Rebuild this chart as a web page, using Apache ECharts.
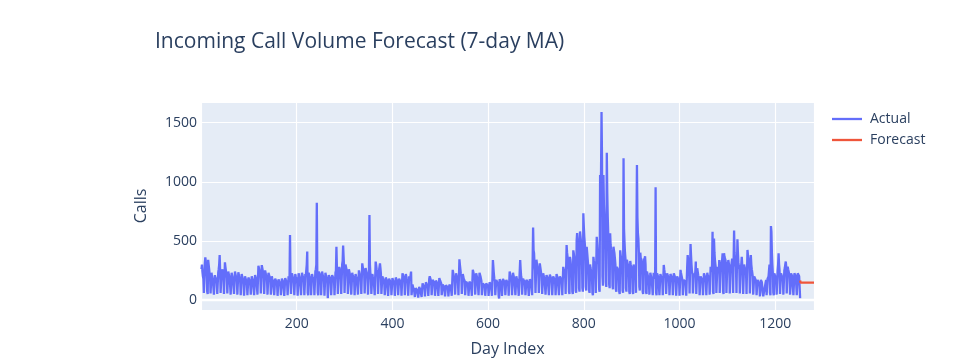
<!DOCTYPE html>
<html>
<head>
<meta charset="utf-8">
<script src="https://cdn.jsdelivr.net/npm/echarts@6/dist/echarts.min.js"></script>
<style>
html,body{margin:0;padding:0;background:#fff;}
#chart{width:963px;height:358px;}
</style>
</head>
<body>
<div id="chart"></div>
<script>
// ---- data ----
var titleText = "Incoming Call Volume Forecast (7-day MA)";
var xAxisTitle = "Day Index";
var yAxisTitle = "Calls";
var seriesNames = ["Actual", "Forecast"];
var xTicks = [200, 400, 600, 800, 1000, 1200];
var yTicks = [0, 500, 1000, 1500];
var actualStartDay = 1;
var actualValues = [
260,300,240,200,180,60,45, 310,360,330,250,210,70,50, 340,300,260,220,190,55,40, 230,200,180,160,150,45,35,
210,190,200,170,150,50,40, 230,260,300,380,250,60,45, 240,220,260,200,180,50,40, 318,280,250,220,190,55,40,
240,220,200,180,170,45,35, 230,210,200,170,160,50,35, 240,220,210,180,160,45,30, 235,215,190,170,150,40,30,
220,200,180,160,140,35,25, 200,190,170,150,130,40,30, 190,180,170,150,130,45,35, 200,185,170,150,140,40,35,
210,200,180,160,150,45,35, 290,270,250,230,200,55,40, 295,280,250,220,190,50,40, 250,230,210,190,170,45,35,
230,220,200,180,160,45,35, 200,180,170,150,140,40,30, 180,170,160,150,130,35,25, 175,165,150,140,130,40,30,
180,170,160,140,130,35,25, 185,170,160,150,135,40,30, 200,190,180,550,200,50,35, 225,210,190,170,150,40,30,
220,200,190,170,150,35,20, 225,210,190,170,160,40,30, 230,210,200,180,160,40,30, 220,200,250,300,410,60,40,
230,210,200,180,160,40,30, 220,200,190,180,160,40,30, 240,260,300,823,250,60,40, 240,230,220,200,180,40,30,
240,220,200,190,170,35,25, 230,210,190,170,150,15,5, 210,200,190,180,160,40,30, 210,200,190,180,170,40,30,
230,250,450,280,240,50,40, 240,280,260,240,220,50,35, 300,330,460,365,280,60,45, 300,280,260,240,210,50,40,
260,240,220,200,190,45,35, 230,210,200,190,170,40,30, 220,200,190,180,170,45,30, 250,230,210,190,170,50,35,
310,280,260,240,220,55,40, 270,250,230,210,190,45,30, 250,719,300,220,200,50,35, 220,200,190,170,160,40,30,
325,296,260,230,200,50,35, 250,240,310,270,220,50,35, 200,190,170,160,140,40,30, 190,180,170,150,140,35,25,
180,170,160,150,140,40,30, 185,170,160,150,135,35,30, 190,180,170,160,140,40,30, 180,170,160,150,140,35,25,
225,210,200,180,160,40,30, 220,200,180,170,150,35,25, 200,190,175,210,240,40,30, 130,110,100,90,80,25,15,
100,90,85,80,70,20,15, 110,100,90,80,75,25,15, 140,130,120,110,100,30,20, 150,140,130,120,110,35,25,
180,200,190,170,150,40,30, 170,165,160,150,130,35,25, 165,160,150,140,130,35,25, 185,170,160,150,140,40,30,
130,125,120,110,100,30,20, 125,120,115,110,100,30,20, 130,125,120,110,100,35,25, 255,230,200,180,160,45,35,
225,210,190,170,150,40,30, 344,300,260,220,200,50,35, 220,200,180,170,160,40,30, 155,150,145,140,130,35,25,
155,150,140,135,130,35,25, 255,240,220,200,180,45,35, 225,210,190,170,160,40,30, 230,220,200,180,160,40,30,
140,135,130,125,120,35,25, 140,135,130,125,115,35,25, 150,140,135,130,120,35,25, 338,280,220,180,160,40,25,
170,160,150,140,130,35,10, 175,170,160,150,140,35,25, 178,170,160,150,140,40,30, 170,160,150,140,130,35,25,
240,225,200,180,160,40,30, 230,210,190,170,160,40,30, 200,180,170,160,150,35,25, 240,338,260,200,180,45,35,
180,170,160,150,140,40,30, 170,165,160,150,140,35,25, 175,170,160,150,140,40,30, 612,420,395,300,250,60,45,
340,310,280,250,220,60,45, 310,280,250,220,200,50,40, 225,210,190,170,160,45,35, 210,200,190,170,160,40,30,
215,200,190,180,160,40,30, 200,190,180,170,150,40,30, 220,210,190,170,160,40,30, 200,190,180,170,150,40,30,
280,260,240,220,200,50,40, 465,400,365,300,260,70,50, 365,340,300,270,240,70,50, 420,395,380,330,290,80,60,
500,565,520,450,400,100,70, 580,540,500,450,380,100,70, 733,620,535,480,420,110,80, 450,400,350,300,255,80,60,
300,270,250,220,200,60,40, 365,330,300,260,230,60,45, 535,470,395,350,300,90,70, 1057,900,1100,1590,1200,200,120,
1057,800,700,600,500,150,110, 1246,900,700,565,450,130,100, 565,465,430,400,350,120,90, 450,420,395,350,300,90,70,
280,270,260,240,220,70,50, 420,380,350,320,280,80,60, 1198,600,493,400,350,100,70, 340,320,300,280,260,70,50,
330,300,280,270,250,70,50, 300,280,270,250,230,60,45, 1142,700,565,520,400,110,80, 400,350,330,300,280,70,50,
350,330,320,370,300,70,50, 240,220,200,180,160,45,35, 230,210,190,170,155,40,30, 230,210,200,180,953,60,40,
225,210,200,180,170,40,30, 220,205,190,180,160,40,30, 296,260,230,210,190,50,35, 225,210,200,190,170,40,30,
220,210,200,190,170,40,25, 225,210,200,190,170,35,20, 200,190,180,170,160,35,25, 255,230,210,190,170,40,30,
170,165,160,155,150,35,25, 280,380,340,300,250,55,40, 473,380,300,240,220,55,40, 225,210,200,240,325,50,35,
268,240,210,190,170,40,30, 200,190,180,170,160,40,30, 225,210,200,190,170,40,25, 230,210,200,190,170,45,30,
280,260,240,300,578,70,50, 520,400,338,300,260,60,45, 280,255,240,230,338,60,45, 282,300,320,340,395,70,50,
395,365,350,338,300,60,45, 320,300,338,310,280,55,40, 300,282,320,350,300,60,45, 587,400,350,300,280,60,45,
513,400,320,282,260,55,40, 282,300,366,300,260,50,35, 300,280,260,250,240,50,35, 423,380,350,300,270,55,40,
380,300,260,230,200,45,35, 200,190,180,170,160,40,30, 170,160,150,140,130,30,20, 170,160,150,140,60,30,20,
40,35,30,150,170,40,30, 180,170,200,250,300,60,40, 626,578,400,300,225,60,40, 225,210,200,190,180,45,30,
250,300,395,300,250,50,35, 225,210,200,190,180,45,30, 250,270,300,325,282,55,40, 282,260,240,220,200,45,35,
225,215,205,200,190,40,30, 225,215,210,200,190,40,30, 225,220,210,200,190,15
];
var forecastStartDay = 1252;
var forecastValues = [
165,146,146,146,146,146,146,146,146,146,146,146,146,146,146,
146,146,146,146,146,146,146,146,146,146,146,146,146,146,146
];

// ---- build ----
var actualData = actualValues.map(function (v, i) { return [actualStartDay + i, v]; });
var forecastData = forecastValues.map(function (v, i) { return [forecastStartDay + i, v]; });

var FONT = "'Open Sans', verdana, arial, sans-serif";
var TXT = '#2a3f5f';

var chart = echarts.init(document.getElementById('chart'), null, {renderer: 'canvas'});
chart.setOption({
  animation: false,
  backgroundColor: '#ffffff',
  textStyle: {fontFamily: FONT, color: TXT},
  title: {
    text: titleText,
    left: 150, top: 27,
    textStyle: {fontFamily: FONT, fontSize: 21, fontWeight: 'normal', color: TXT}
  },
  legend: {
    data: seriesNames,
    orient: 'vertical',
    left: 832, top: 112, padding: 0,
    icon: 'rect',
    itemWidth: 30, itemHeight: 2.3, itemGap: 7,
    textStyle: {fontFamily: FONT, fontSize: 14, color: TXT, padding: [0, 0, 0, 3], lineHeight: 14}
  },
  grid: {
    left: 201, top: 102, width: 613, height: 208,
    show: true, backgroundColor: '#E5ECF6', borderWidth: 0,
    containLabel: false, outerBoundsMode: 'none'
  },
  xAxis: {
    type: 'value',
    min: 0, max: 1281,
    minInterval: 200, maxInterval: 200,
    name: xAxisTitle, nameLocation: 'middle', nameGap: 31,
    nameTextStyle: {fontFamily: FONT, fontSize: 16, color: TXT},
    axisLine: {show: false}, axisTick: {show: false},
    axisLabel: {
      fontFamily: FONT, fontSize: 14, color: TXT, margin: 7,
      formatter: function (v) { return xTicks.indexOf(v) >= 0 ? String(v) : ''; }
    },
    splitLine: {show: true, lineStyle: {color: '#ffffff', width: 1.2}}
  },
  yAxis: {
    type: 'value',
    min: -85, max: 1675,
    minInterval: 500, maxInterval: 500,
    name: yAxisTitle, nameLocation: 'middle', nameGap: 52, nameRotate: 90,
    nameTextStyle: {fontFamily: FONT, fontSize: 16, color: TXT},
    axisLine: {show: false}, axisTick: {show: false},
    axisLabel: {
      fontFamily: FONT, fontSize: 14, color: TXT, margin: 4,
      formatter: function (v) { return yTicks.indexOf(v) >= 0 ? String(v) : ''; }
    },
    splitLine: {show: true, lineStyle: {color: '#ffffff', width: 1.2}}
  },
  series: [
    {
      name: '_zero', type: 'line', data: [], z: 1, silent: true,
      markLine: {
        silent: true, symbol: 'none', label: {show: false},
        lineStyle: {color: '#ffffff', width: 2.3, type: 'solid'},
        data: [{yAxis: 0}]
      }
    },
    {
      name: seriesNames[0], type: 'line', data: actualData, z: 3,
      symbol: 'none', showSymbol: false,
      color: '#636efa',
      lineStyle: {color: '#636efa', width: 2.3}
    },
    {
      name: seriesNames[1], type: 'line', data: forecastData, z: 4,
      symbol: 'none', showSymbol: false,
      color: '#EF553B',
      lineStyle: {color: '#EF553B', width: 2.3}
    }
  ]
});
</script>
</body>
</html>
